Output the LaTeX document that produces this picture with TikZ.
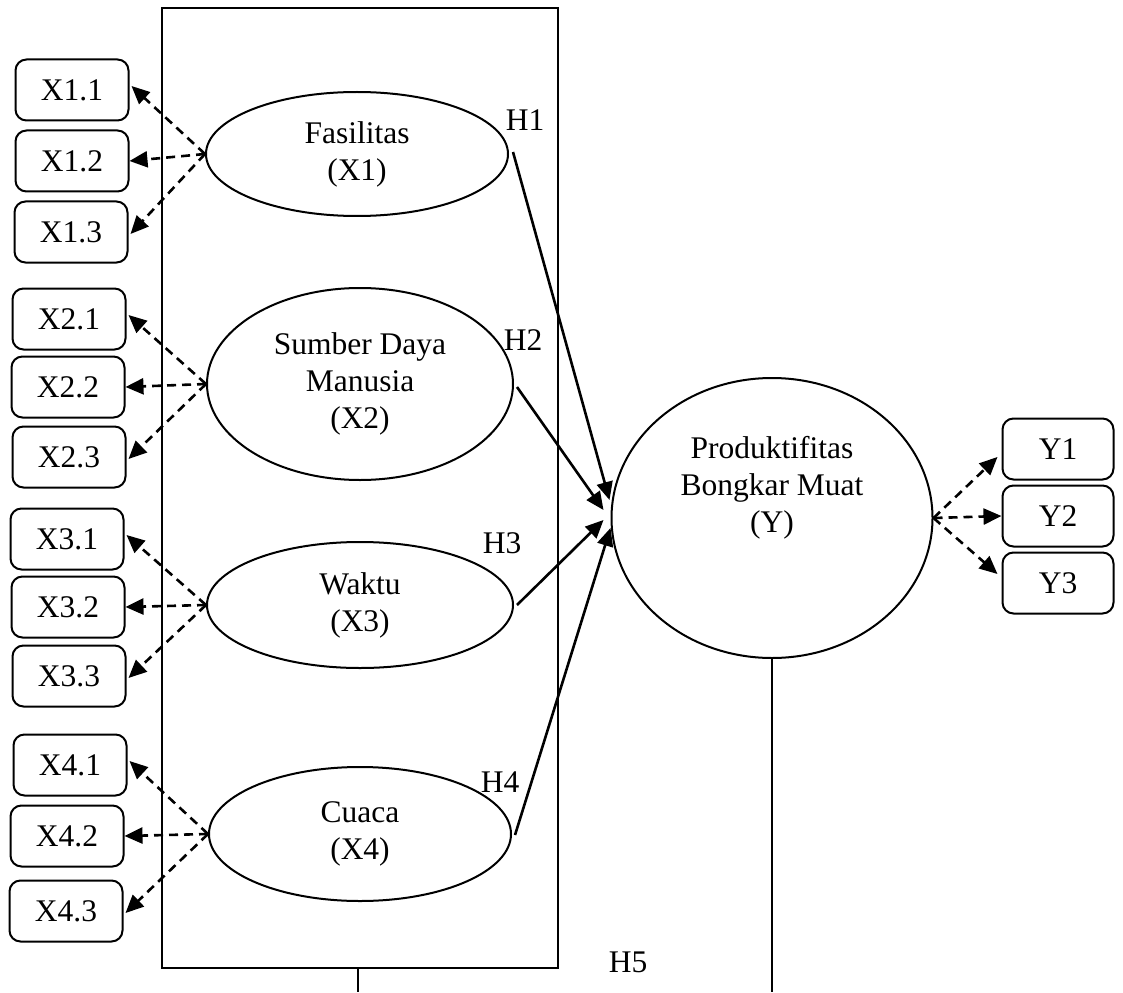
\documentclass[tikz,border=0pt]{standalone}
\usepackage{fontspec}
\setmainfont{Liberation Serif}
\usetikzlibrary{shapes.geometric,arrows.meta,calc}
\begin{document}
\begin{tikzpicture}[x=1pt,y=-1pt,
  font=\fontsize{31.5}{37}\selectfont,
  ind/.style={draw,rounded corners=11pt,minimum width=113pt,minimum height=61pt,line width=2pt,inner sep=0pt},
  lat/.style={draw,ellipse,line width=2pt,inner sep=0pt,align=center},
  dsh/.style={dash pattern=on 9pt off 6pt,line width=2.6pt,-{Triangle[length=18pt,width=16pt]}},
  sol/.style={line width=2.6pt,-{Triangle[length=18pt,width=16pt]}},
  hl/.style={inner sep=0pt}]
\useasboundingbox (0,0) rectangle (1123,992);
% frame
\node[draw,line width=2pt,minimum width=396pt,minimum height=960pt,inner sep=0pt] (frame) at (360,488) {};
% indicator boxes
\node[ind] (X11) at (72,90) {X1.1};
\node[ind] (X12) at (72,161) {X1.2};
\node[ind] (X13) at (71,232) {X1.3};
\node[ind] (X21) at (69,319) {X2.1};
\node[ind] (X22) at (68,387) {X2.2};
\node[ind] (X23) at (69,457) {X2.3};
\node[ind] (X31) at (67,539) {X3.1};
\node[ind] (X32) at (68,607) {X3.2};
\node[ind] (X33) at (69,676) {X3.3};
\node[ind] (X41) at (70,765) {X4.1};
\node[ind] (X42) at (67,836) {X4.2};
\node[ind] (X43) at (66,911) {X4.3};
\node[ind,minimum width=111pt] (Y1) at (1058,449) {Y1};
\node[ind,minimum width=111pt] (Y2) at (1058,516) {Y2};
\node[ind,minimum width=111pt] (Y3) at (1058,583) {Y3};
% latent variables
\node[lat,minimum width=302pt,minimum height=124pt] (E1) at (357,154) {Fasilitas\\(X1)};
\node[lat,minimum width=306pt,minimum height=192pt] (E2) at (360,384) {Sumber Daya\\Manusia\\(X2)};
\node[lat,minimum width=306pt,minimum height=126pt] (E3) at (360,605) {Waktu\\(X3)};
\node[lat,minimum width=302pt,minimum height=134pt] (E4) at (360,834) {Cuaca\\(X4)};
\node[lat,minimum width=321pt,minimum height=280pt] (EY) at (772,518) {};
\node[hl,align=center] (EYt) at (772,488) {Produktifitas\\Bongkar Muat\\(Y)};
% dashed indicator arrows
\foreach \e/\a/\b/\c in {E1/X11/X12/X13,E2/X21/X22/X23,E3/X31/X32/X33,E4/X41/X42/X43}{
  \draw[dsh] (\e.west) -- ($(\a.east)+(2,-4)$);
  \draw[dsh] (\e.west) -- (\b.east);
  \draw[dsh] (\e.west) -- ($(\c.east)+(2,2)$);
}
\draw[dsh] (EY.east) -- ($(Y1.west)+(-4,8)$);
\draw[dsh] (EY.east) -- (Y2.west);
\draw[dsh] (EY.east) -- ($(Y3.west)+(-4,-9)$);
% structural arrows
\draw[sol] ($(E1.east)+(4,-2)$) -- ($(EY.west)+(-1,-18)$);
\draw[sol] ($(E2.east)+(3,3)$) -- ($(EY.west)+(-7,-8)$);
\draw[sol] ($(E3.east)+(3,0)$) -- ($(EY.west)+(-7,2)$);
\draw[sol] ($(E4.east)+(3,1)$) -- ($(EY.west)+(0,10)$);
% hypothesis labels
\node[hl] (H1) at (525,120) {H1};
\node[hl] (H2) at (523,340) {H2};
\node[hl] (H3) at (502,543) {H3};
\node[hl] (H4) at (500,782) {H4};
\node[hl] (H5) at (628,962) {H5};
% stems
\coordinate (s1) at (358,992);
\coordinate (s2) at (772,992);
\draw[line width=2pt] (frame.south -| s1) -- (s1);
\draw[line width=2pt] (EY.south) -- (s2);
\end{tikzpicture}
\end{document}
